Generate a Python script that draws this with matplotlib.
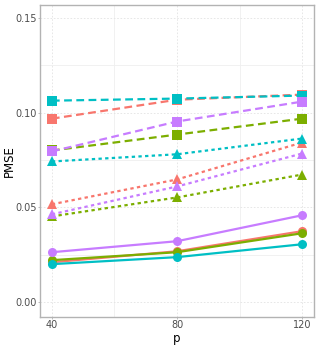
import matplotlib
matplotlib.use("Agg")
import matplotlib.pyplot as plt
from matplotlib.ticker import MultipleLocator

# data
p = [40, 80, 120]
colors = {"A": "#F8766D", "B": "#7CAE00", "C": "#00BFC4", "D": "#C77CFF"}

# solid lines with circles
circle_vals = {
    "A": [0.0210, 0.0268, 0.0374],
    "B": [0.0221, 0.0263, 0.0363],
    "C": [0.0200, 0.0237, 0.0305],
    "D": [0.0263, 0.0321, 0.0458],
}
# long-dashed lines with squares
square_vals = {
    "A": [0.0968, 0.1068, 0.1095],
    "B": [0.0800, 0.0884, 0.0968],
    "C": [0.1063, 0.1074, 0.1090],
    "D": [0.0795, 0.0953, 0.1058],
}
# short-dashed lines with triangles
triangle_vals = {
    "A": [0.0516, 0.0647, 0.0842],
    "B": [0.0452, 0.0552, 0.0673],
    "C": [0.0742, 0.0780, 0.0863],
    "D": [0.0463, 0.0610, 0.0784],
}

W, H = 319, 348
fig = plt.figure(figsize=(W / 100, H / 100), dpi=100)
ax = fig.add_axes([40 / W, 1 - 317 / H, 274 / W, 312 / H])

styles = [
    (circle_vals, "-", "o", 6.5),
    (square_vals, (0, (3.5, 2.0)), "s", 6.5),
    (triangle_vals, (0, (1.5, 1.5)), "^", 7),
]
for vals, ls, mk, ms in styles:
    for key in ["A", "B", "C", "D"]:
        ax.plot(p, vals[key], color=colors[key], linestyle=ls, lw=1.6,
                marker=mk, markersize=ms, markeredgewidth=0, zorder=3)

ax.set_xlim(36.2, 123.8)
ax.set_ylim(-0.0079, 0.1568)
ax.set_xticks(p)
ax.yaxis.set_major_locator(MultipleLocator(0.05))
ax.yaxis.set_minor_locator(MultipleLocator(0.025))
ax.xaxis.set_minor_locator(MultipleLocator(20))
ax.yaxis.set_major_formatter(matplotlib.ticker.FormatStrFormatter("%.2f"))

ax.grid(which="major", color="#E3E3E3", lw=0.6, linestyle=(0, (2, 2)))
ax.grid(which="minor", color="#EFEFEF", lw=0.6, linestyle="-")
ax.set_axisbelow(True)

for s in ax.spines.values():
    s.set_color("#B3B3B3")
    s.set_linewidth(1.0)

ax.tick_params(which="major", colors="#B3B3B3", labelcolor="#4D4D4D",
               labelsize=7, length=1.5, width=0.6, pad=1)
ax.tick_params(which="minor", length=0)

# axis titles placed in figure pixels like the reference
fig.text(177 / W, 1 - 342 / H, "p", fontsize=8.5, ha="center", va="baseline")
fig.text(9 / W, 1 - 161 / H, "PMSE", fontsize=8.5, ha="center", va="center",
         rotation=90)

fig.savefig("out.png", dpi=100)
